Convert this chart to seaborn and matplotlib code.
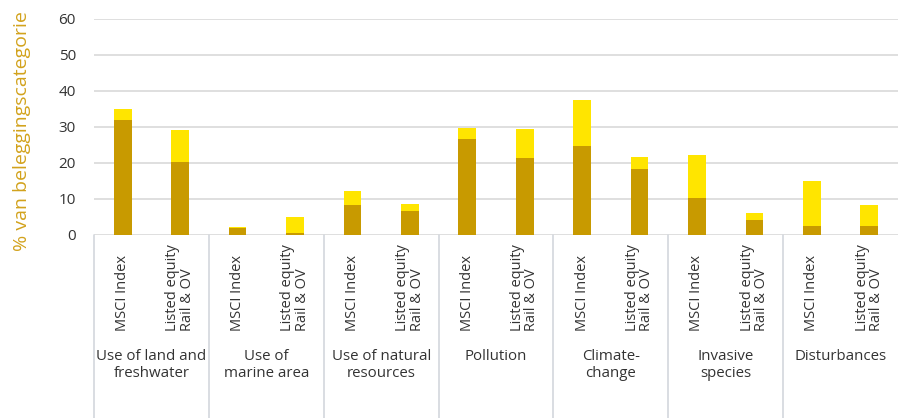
import matplotlib
matplotlib.use("Agg")
import matplotlib.pyplot as plt
import matplotlib.transforms as mtransforms
import numpy as np
import pandas as pd
import seaborn as sns

# Impact drivers (groups) and the two portfolios shown per driver
groups = [
    "Use of land and\nfreshwater",
    "Use of\nmarine area",
    "Use of natural\nresources",
    "Pollution",
    "Climate-\nchange",
    "Invasive\nspecies",
    "Disturbances",
]
portfolios = ["MSCI Index", "Listed equity\nRail & OV"]

# Lower (dark) segment per bar, in group order: MSCI, Listed, MSCI, Listed, ...
lower_values = [32.0, 20.4, 2.0, 0.6, 8.3, 6.6, 26.8, 21.3, 24.8, 18.2, 10.3, 4.3, 2.5, 2.5]
# Total bar height (dark + light segment)
total_values = [35.0, 29.2, 2.2, 4.9, 12.2, 8.6, 29.7, 29.4, 37.5, 21.7, 22.2, 6.1, 15.0, 8.3]

y_ticks = [0, 10, 20, 30, 40, 50, 60]
y_label = "% van beleggingscategorie"

DARK = "#C89A00"
LIGHT = "#FFE500"
GRID = "#D9D9D9"
SEP = "#D3D7DD"
TEXT = "#333333"
LABEL_GOLD = "#D2A21C"

sns.set_theme(style="white")
plt.rcParams["font.family"] = ["Open Sans", "DejaVu Sans"]

bar_ids = [f"{g}|{p}" for g in range(len(groups)) for p in range(len(portfolios))]
df = pd.DataFrame({"bar": bar_ids, "lower": lower_values, "total": total_values})

W, H = 898, 418
fig = plt.figure(figsize=(W / 100, H / 100), dpi=100)
ax_left, ax_right, ax_top, ax_bottom = 94, 898, 19, 235
ax = fig.add_axes([ax_left / W, 1 - ax_bottom / H, (ax_right - ax_left) / W, (ax_bottom - ax_top) / H])
ax_h = ax_bottom - ax_top

sns.barplot(data=df, x="bar", y="total", order=bar_ids, color=LIGHT, width=0.31,
            saturation=1, edgecolor="none", ax=ax, zorder=3)
sns.barplot(data=df, x="bar", y="lower", order=bar_ids, color=DARK, width=0.31,
            saturation=1, edgecolor="none", ax=ax, zorder=4)

ax.set_xlim(-0.5, len(bar_ids) - 0.5)
ax.set_ylim(0, 60)
ax.set_yticks(y_ticks)
ax.set_yticklabels([str(t) for t in y_ticks], fontsize=11, color=TEXT)
ax.tick_params(axis="y", length=0, pad=13)
ax.tick_params(axis="x", length=0, labelbottom=False)
ax.set_xlabel("")
ax.set_ylabel("")
for s in ax.spines.values():
    s.set_visible(False)
ax.grid(axis="y", color=GRID, linewidth=1.2, zorder=0)
ax.set_axisbelow(True)

trans = mtransforms.blended_transform_factory(ax.transData, ax.transAxes)

def ay(px):
    # pixel row of the figure -> axes fraction
    return -(px - ax_bottom) / ax_h

# Vertical separators between groups
for k in range(len(groups) + 1):
    x = -0.5 + 2 * k
    if x > len(bar_ids) - 0.6:
        continue
    ax.plot([x, x], [0, ay(H)], transform=trans, color=SEP, linewidth=1.2,
            clip_on=False, zorder=1)

# Portfolio labels (rotated) and group labels
for gi, g in enumerate(groups):
    for pi, p in enumerate(portfolios):
        xi = 2 * gi + pi
        ax.text(xi, ay(331), p, transform=trans, rotation=90, ha="center", va="bottom",
                multialignment="left", fontsize=10.5, color=TEXT, linespacing=0.95)
    ax.text(2 * gi + 0.5, ay(349), g, transform=trans, ha="center", va="top",
            multialignment="center", fontsize=10.8, color=TEXT, linespacing=1.2)

fig.text(22 / W, 1 - 131 / H, y_label, rotation=90, ha="center", va="center",
         fontsize=14, color=LABEL_GOLD)

fig.savefig("out.png", dpi=100)
